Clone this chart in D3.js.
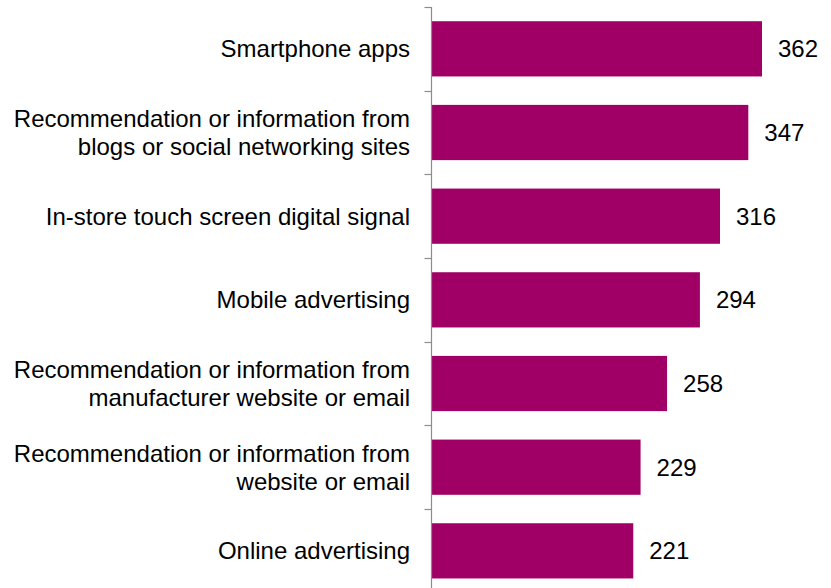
<!DOCTYPE html>
<html>
<head>
<meta charset="utf-8">
<script src="https://cdn.jsdelivr.net/npm/d3@7"></script>
<style>
  html, body { margin: 0; padding: 0; background: #ffffff; }
  svg { display: block; }
</style>
</head>
<body>
<svg id="chart" width="831" height="588"></svg>
<script>
// Channels and their scores
const categories = [
  ["Smartphone apps"],
  ["Recommendation or information from", "blogs or social networking sites"],
  ["In-store touch screen digital signal"],
  ["Mobile advertising"],
  ["Recommendation or information from", "manufacturer website or email"],
  ["Recommendation or information from", "website or email"],
  ["Online advertising"]
];
const values = [362, 347, 316, 294, 258, 229, 221];

const svg = d3.select("#chart");
const axisX = 431.5;
const plotTop = 7, step = 83.67;
const fontFamily = "'Liberation Sans', Arial, sans-serif";

const keys = categories.map((d, i) => i);
const y = d3.scaleBand()
  .domain(keys)
  .range([plotTop, plotTop + step * keys.length])
  .paddingInner(0.34)
  .paddingOuter(0.17);

const x = d3.scaleLinear()
  .domain([0, 362])
  .range([axisX, 762]);

// Bars
svg.append("g")
  .selectAll("rect")
  .data(values)
  .join("rect")
  .attr("x", x(0))
  .attr("y", (d, i) => y(i))
  .attr("width", d => x(d) - x(0))
  .attr("height", y.bandwidth())
  .attr("fill", "#a00066");

// Category axis: vertical line with ticks at band boundaries
const axisG = svg.append("g");
axisG.append("line")
  .attr("x1", axisX).attr("x2", axisX)
  .attr("y1", plotTop).attr("y2", 588)
  .attr("stroke", "#8c8c8c").attr("stroke-width", 1.2);
const boundaries = d3.range(keys.length).map(i => plotTop + i * step);
axisG.selectAll("line.tick")
  .data(boundaries)
  .join("line")
  .attr("class", "tick")
  .attr("x1", axisX - 7).attr("x2", axisX)
  .attr("y1", d => Math.round(d) + 0.5).attr("y2", d => Math.round(d) + 0.5)
  .attr("stroke", "#8c8c8c").attr("stroke-width", 1.2);

// Category labels
const fontSize = 24;
const lineH = 28;
const labels = svg.append("g")
  .attr("font-family", fontFamily)
  .attr("font-size", fontSize)
  .attr("fill", "#000")
  .attr("text-anchor", "end");
categories.forEach((lines, i) => {
  const cy = y(i) + y.bandwidth() / 2;
  const t = labels.append("text")
    .attr("x", 410)
    .attr("y", cy - (lines.length - 1) * lineH / 2);
  lines.forEach((ln, j) => {
    t.append("tspan")
      .attr("x", 410)
      .attr("dy", j === 0 ? "0.35em" : lineH)
      .text(ln);
  });
});

// Value labels
svg.append("g")
  .attr("font-family", fontFamily)
  .attr("font-size", fontSize)
  .attr("fill", "#000")
  .selectAll("text")
  .data(values)
  .join("text")
  .attr("x", d => x(d) + 16)
  .attr("y", (d, i) => y(i) + y.bandwidth() / 2)
  .attr("dy", "0.35em")
  .text(d => d);
</script>
</body>
</html>
